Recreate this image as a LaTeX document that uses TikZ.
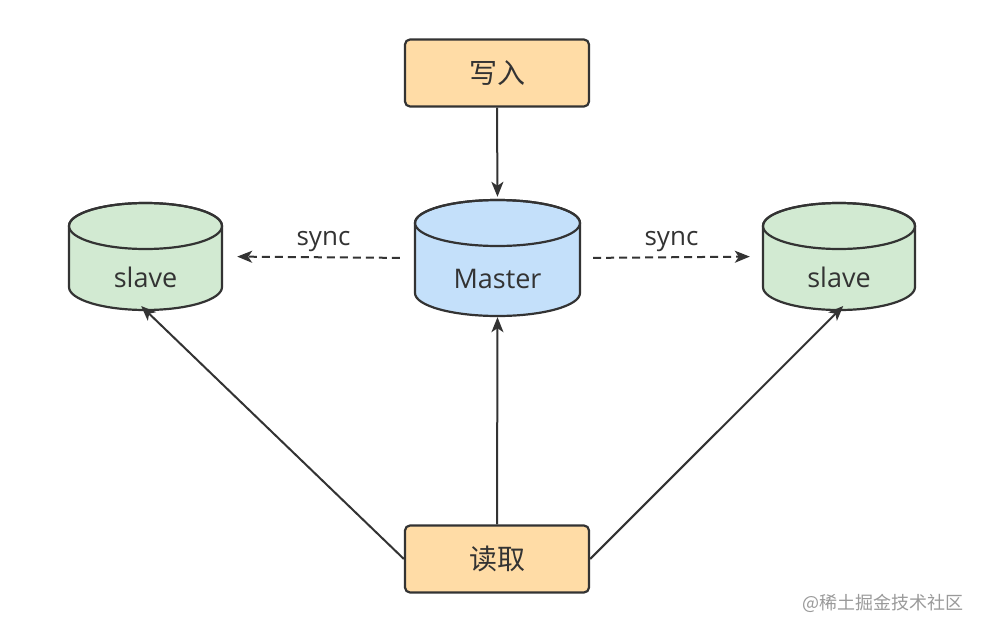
\documentclass[tikz,border=0pt]{standalone}
\usepackage{fontspec}
\setmainfont{Open Sans}
\newfontfamily\cjk{Noto Sans CJK SC}
\usetikzlibrary{arrows.meta}
\definecolor{linec}{HTML}{333333}
\definecolor{boxfill}{HTML}{FFDCA6}
\definecolor{masterfill}{HTML}{C4E0FA}
\definecolor{slavefill}{HTML}{D2EAD2}
\definecolor{wm}{HTML}{9A9A9A}
\newcommand{\mydbcyl}[7]{% name, cx, top y, bottom y, rx, fill, label
  \path[fill=#6,draw=linec,line width=2.2pt]
    (#2-#5,#3) -- (#2-#5,#4) arc[start angle=180,end angle=360,x radius=#5pt,y radius=23pt]
    -- (#2+#5,#3) arc[start angle=0,end angle=180,x radius=#5pt,y radius=23pt] -- cycle;
  \draw[linec,line width=2.2pt] (#2,#3) ellipse[x radius=#5pt,y radius=23pt];
  \node[inner sep=0pt,minimum width=2*#5pt,minimum height=(#4-#3+46)*1pt] (#1) at (#2,{(#3+#4)/2}) {};
  \node[text=linec,font=\fontsize{27}{30}\selectfont] (#1-label) at (#2,{(#3+#4)/2+21}) {#7};
}
\tikzset{
  actbox/.style={draw=linec,fill=boxfill,line width=2.2pt,rounded corners=5pt,
    minimum width=184pt,minimum height=67pt,inner sep=0pt,text=linec,
    font=\cjk\fontsize{28}{30}\selectfont},
  conn/.style={draw=linec,line width=2pt,-{Stealth[length=15pt,width=12pt,inset=4pt]}},
  syncline/.style={conn,dash pattern=on 8pt off 5pt},
  synclabel/.style={text=linec,font=\fontsize{26}{30}\selectfont}
}
\begin{document}
\begin{tikzpicture}[x=1pt,y=-1pt]
\useasboundingbox[fill=white] (0,0) rectangle (983,632);
\node[actbox] (write) at (497,73) {写入};
\node[actbox] (read) at (497,559) {读取};
\mydbcyl{master}{497.5}{223}{293}{82.5}{masterfill}{Master}
\mydbcyl{slaveL}{145.5}{226}{287}{76.5}{slavefill}{slave}
\mydbcyl{slaveR}{839}{226}{287}{76}{slavefill}{slave}
\draw[conn,shorten >=3pt] (write.south) -- (master.north);
\draw[conn,shorten >=1pt] (read.north) -- (master.south);
\draw[conn,shorten >=-6pt] (read.west) -- (slaveL.south);
\draw[conn,shorten >=-6pt] (read.east) -- (slaveR.south);
\draw[syncline,shorten <=15pt,shorten >=15pt] (master.west) -- node[synclabel,above=1pt,xshift=5pt] (syncL) {sync} (slaveL.east);
\draw[syncline,shorten <=13pt,shorten >=13pt] (master.east) -- node[synclabel,above=1pt] (syncR) {sync} (slaveR.west);
\node[text=wm,font=\cjk\fontsize{18}{20}\selectfont] (wmark) at (883,603) {@稀土掘金技术社区};
\end{tikzpicture}
\end{document}
